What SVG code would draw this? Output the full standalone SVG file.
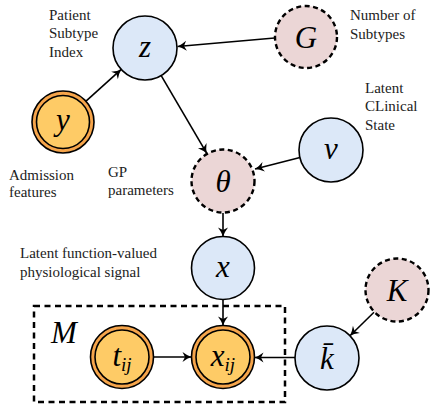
<svg xmlns="http://www.w3.org/2000/svg" width="430" height="414" viewBox="0 0 430 414">
  <style>
    .latent { fill: #dce8f8; stroke: #000; stroke-width: 1.6; }
    .hyper { fill: #ebd6d6; stroke: #000; stroke-width: 2.4; stroke-dasharray: 5 3.5; }
    .obs-outer { fill: #f6a54b; stroke: #000; stroke-width: 1.6; }
    .obs-inner { fill: #fecb66; stroke: #000; stroke-width: 1.6; }
    .sym { font-family: "Liberation Serif", "DejaVu Serif", serif; font-style: italic; font-size: 31px; text-anchor: middle; fill: #000; }
    .sub { font-size: 19px; }
    .note { font-family: "Liberation Serif", "DejaVu Serif", serif; font-size: 15px; fill: #222; }
    .edge { fill: none; stroke: #000; stroke-width: 1.6; marker-end: url(#head); }
    .plate { fill: none; stroke: #000; stroke-width: 2.5; stroke-dasharray: 6 4.5; }
  </style>
  <defs>
    <marker id="head" markerUnits="userSpaceOnUse" markerWidth="14" markerHeight="12" viewBox="-10 -6 12 12" refX="0" refY="0" orient="auto">
      <path d="M-9,-5 Q-4,-1.2 0,0 Q-4,1.2 -9,5 L-6.5,0 Z" fill="#000"/>
    </marker>
  </defs>

  <rect width="430" height="414" fill="#fff"/>

  <!-- plate over the observations -->
  <rect class="plate" x="34" y="306" width="251" height="96"/>
  <text class="sym" x="64" y="343">M</text>

  <g id="connectors">
    <line class="edge" x1="274.6" y1="38" x2="177.5" y2="46.5"/>
    <line class="edge" x1="86" y1="101.2" x2="121.2" y2="69.4"/>
    <line class="edge" x1="161.2" y1="75.6" x2="206.8" y2="153.4"/>
    <line class="edge" x1="300" y1="157.5" x2="255" y2="169"/>
    <line class="edge" x1="223" y1="213" x2="223" y2="236.5"/>
    <line class="edge" x1="223" y1="299.5" x2="223" y2="325.5"/>
    <line class="edge" x1="153.5" y1="357" x2="191.5" y2="357"/>
    <line class="edge" x1="295" y1="357.5" x2="254.5" y2="357.5"/>
    <line class="edge" x1="374" y1="312.3" x2="350" y2="335.7"/>
  </g>

  <g id="node-z">
    <circle class="latent" cx="145" cy="48" r="32"/>
    <text class="sym" x="145" y="57">z</text>
  </g>
  <g id="node-G">
    <circle class="hyper" cx="306" cy="37" r="31"/>
    <text class="sym" x="306" y="48">G</text>
  </g>
  <g id="node-y">
    <circle class="obs-outer" cx="63" cy="122" r="31"/>
    <circle class="obs-inner" cx="63" cy="122" r="26.5"/>
    <text class="sym" x="63" y="130">y</text>
  </g>
  <g id="node-theta">
    <circle class="hyper" cx="223" cy="181" r="31.5"/>
    <text class="sym" x="223" y="192">θ</text>
  </g>
  <g id="node-v">
    <circle class="latent" cx="331" cy="150" r="32"/>
    <text class="sym" x="331" y="159">v</text>
  </g>
  <g id="node-x">
    <circle class="latent" cx="223" cy="268" r="31.5"/>
    <text class="sym" x="223" y="277">x</text>
  </g>
  <g id="node-K">
    <circle class="hyper" cx="397" cy="290" r="31.5"/>
    <text class="sym" x="397" y="301">K</text>
  </g>
  <g id="node-kbar">
    <circle class="latent" cx="327" cy="358" r="32"/>
    <text class="sym" x="327" y="369">k̄</text>
  </g>
  <g id="node-tij">
    <circle class="obs-outer" cx="122" cy="357" r="31.5"/>
    <circle class="obs-inner" cx="122" cy="357" r="27"/>
    <text class="sym" x="122" y="366">t<tspan class="sub" dy="5">ij</tspan></text>
  </g>
  <g id="node-xij">
    <circle class="obs-outer" cx="223" cy="357" r="31.5"/>
    <circle class="obs-inner" cx="223" cy="357" r="27"/>
    <text class="sym" x="223" y="366">x<tspan class="sub" dy="5">ij</tspan></text>
  </g>

  <!-- annotations -->
  <text class="note" x="49" y="20">Patient</text>
  <text class="note" x="49" y="38">Subtype</text>
  <text class="note" x="49" y="57">Index</text>
  <text class="note" x="350" y="20">Number of</text>
  <text class="note" x="350" y="39">Subtypes</text>
  <text class="note" x="365" y="93">Latent</text>
  <text class="note" x="365" y="111">CLinical</text>
  <text class="note" x="365" y="130">State</text>
  <text class="note" x="9" y="180">Admission</text>
  <text class="note" x="9" y="197">features</text>
  <text class="note" x="108" y="177">GP</text>
  <text class="note" x="108" y="195">parameters</text>
  <text class="note" x="20" y="258">Latent function-valued</text>
  <text class="note" x="20" y="277">physiological signal</text>
</svg>
